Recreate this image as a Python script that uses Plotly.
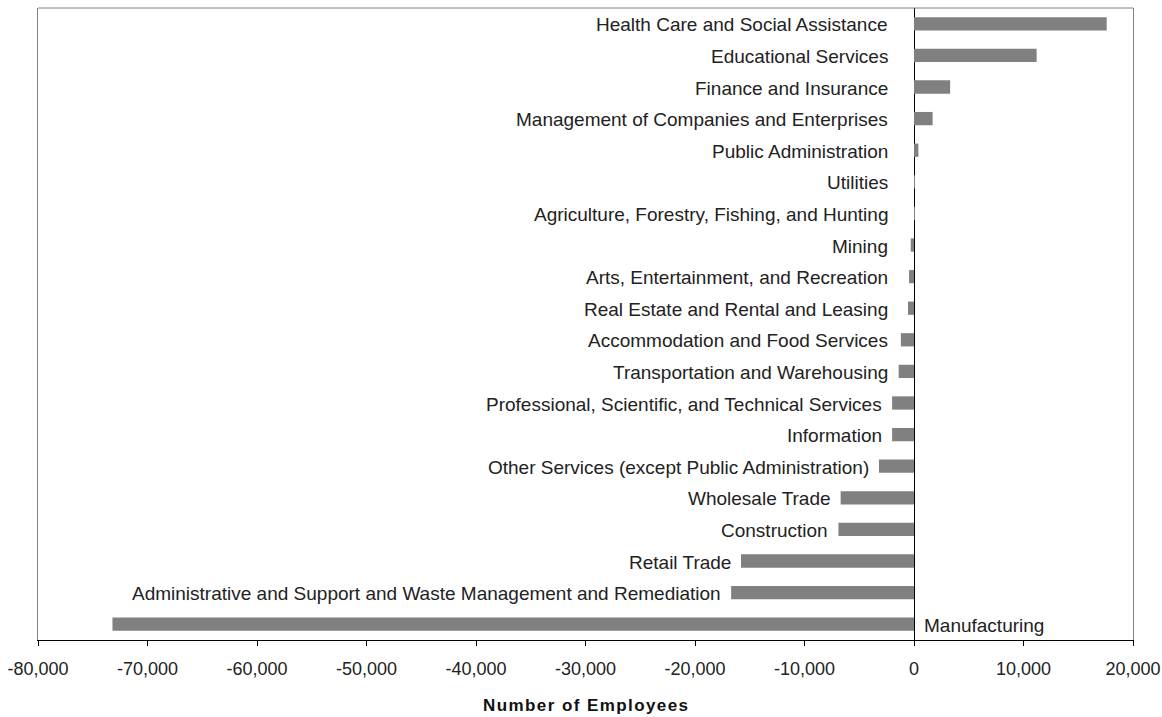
import plotly.graph_objects as go

categories = [
    "Health Care and Social Assistance",
    "Educational Services",
    "Finance and Insurance",
    "Management of Companies and Enterprises",
    "Public Administration",
    "Utilities",
    "Agriculture, Forestry, Fishing, and Hunting",
    "Mining",
    "Arts, Entertainment, and Recreation",
    "Real Estate and Rental and Leasing",
    "Accommodation and Food Services",
    "Transportation and Warehousing",
    "Professional, Scientific, and Technical Services",
    "Information",
    "Other Services (except Public Administration)",
    "Wholesale Trade",
    "Construction",
    "Retail Trade",
    "Administrative and Support and Waste Management and Remediation",
    "Manufacturing",
]
values = [17600, 11200, 3300, 1700, 400, 20, 10, -300, -450, -550, -1200, -1400,
          -2000, -2000, -3200, -6700, -6900, -15800, -16700, -73200]

tick_values = [-80000, -70000, -60000, -50000, -40000, -30000, -20000, -10000, 0, 10000, 20000]
tick_labels = ["-80,000", "-70,000", "-60,000", "-50,000", "-40,000", "-30,000",
               "-20,000", "-10,000", "0", "10,000", "20,000"]
axis_title = "Number of Employees"

fig = go.Figure()
fig.add_trace(go.Bar(
    x=values, y=categories, orientation="h",
    marker=dict(color="#808080", line=dict(width=0)),
    width=0.42, hoverinfo="x+y",
))

font_fam = "Liberation Sans, Arial, sans-serif"
annotations = []
for cat, v in zip(categories, values):
    if cat == "Manufacturing":
        annotations.append(dict(x=0, y=cat, text=cat, xanchor="left", xshift=8, yshift=-1,
                                showarrow=False, font=dict(family=font_fam, size=19, color="#222")))
    else:
        annotations.append(dict(x=min(v, -1500), y=cat, text=cat, xanchor="right", xshift=-8, yshift=-1,
                                showarrow=False, font=dict(family=font_fam, size=19, color="#222")))

spaced_title = "\u200a".join(list(axis_title))
annotations.append(dict(xref="paper", yref="paper", x=(585 - 38) / 1095, y=-65 / 632,
                        xanchor="center", yanchor="middle", showarrow=False,
                        text="<b>" + spaced_title + "</b>",
                        font=dict(family=font_fam, size=17, color="#111")))

fig.update_layout(
    width=1162, height=717,
    margin=dict(l=38, r=29, t=8, b=77),
    paper_bgcolor="white", plot_bgcolor="white",
    showlegend=False,
    annotations=annotations,
    font=dict(family=font_fam, size=18, color="#222"),
    xaxis=dict(
        range=[-80000, 20000], tickvals=tick_values, ticktext=tick_labels,
        automargin=False,
        showgrid=False, zeroline=True, zerolinecolor="black", zerolinewidth=1,
        showline=True, linecolor="black", linewidth=1,
        ticks="outside", ticklen=5, tickcolor="black", ticklabelstandoff=7,
        tickfont=dict(size=18, color="#222"),
    ),
    yaxis=dict(
        autorange="reversed", showticklabels=False, showgrid=False, automargin=False,
        showline=True, linecolor="#808080", linewidth=1, mirror=True, ticks="",
    ),
    shapes=[dict(type="line", xref="paper", yref="paper", x0=0, x1=1, y0=1, y1=1,
                 line=dict(color="#808080", width=1))],
)

fig.write_html("out.html", config={"displayModeBar": False},
               post_script="document.body.style.margin='0';document.body.style.padding='0';")
